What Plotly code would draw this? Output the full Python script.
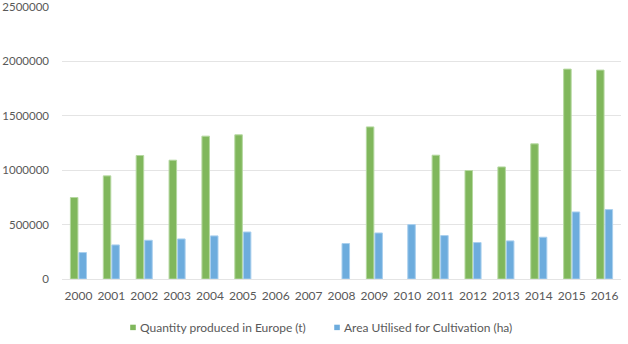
import plotly.graph_objects as go

years = [str(y) for y in range(2000, 2017)]
quantity = [749000, 948000, 1135000, 1092000, 1313000, 1325000, None, None, None,
            1398000, None, 1138000, 997000, 1030000, 1242000, 1929000, 1920000]
area = [243000, 313000, 356000, 368000, 396000, 432000, None, None, 326000,
        423000, 500000, 399000, 335000, 350000, 384000, 616000, 638000]
y_ticks = [0, 500000, 1000000, 1500000, 2000000, 2500000]
series_names = ["Quantity produced in Europe (t)", "Area Utilised for Cultivation (ha)"]
series_colors = ["#80B75C", "#6DACDD"]
series_edges = ["#B5D8A0", "#A9CFEE"]

font_family = "Lato, 'Open Sans', sans-serif"
text_color = "#595959"

fig = go.Figure()
for vals, name, col, edge in zip([quantity, area], series_names, series_colors, series_edges):
    fig.add_trace(go.Bar(
        x=years, y=vals, name=name,
        marker=dict(color=col, line=dict(color=edge, width=1)),
        showlegend=False,
    ))

# custom legend (small square + label), Excel-like
legend_x = [0.122, 0.487]  # paper x of the squares
legend_y = -0.178
for lx, name, col in zip(legend_x, series_names, series_colors):
    fig.add_shape(type="rect", xref="paper", yref="paper",
                  x0=lx, x1=lx + 0.010, y0=legend_y - 0.010, y1=legend_y + 0.010,
                  fillcolor=col, line=dict(width=0))
    fig.add_annotation(xref="paper", yref="paper", x=lx + 0.014, y=legend_y,
                       xanchor="left", yanchor="middle", showarrow=False,
                       text=name, font=dict(size=12, color=text_color))

fig.update_layout(
    width=628, height=344,
    margin=dict(l=62, r=7, t=7, b=65),
    paper_bgcolor="white", plot_bgcolor="white",
    barmode="group", bargap=0.48, bargroupgap=0.12,
    font=dict(family=font_family, size=12, color=text_color),
    showlegend=False,
    xaxis=dict(type="category", showgrid=False, showline=False, ticks="",
               ticklabelstandoff=8, automargin=False,
               tickfont=dict(size=12, color=text_color)),
    yaxis=dict(range=[0, 2500000], tickvals=y_ticks,
               ticktext=[str(v) for v in y_ticks],
               showgrid=True, gridcolor="#E4E4E4", gridwidth=1,
               zeroline=True, zerolinecolor="#E4E4E4", zerolinewidth=1,
               showline=False, ticks="", ticklabelstandoff=12, automargin=False,
               tickfont=dict(size=11.5, color=text_color)),
)

fig.write_html("out.html")
